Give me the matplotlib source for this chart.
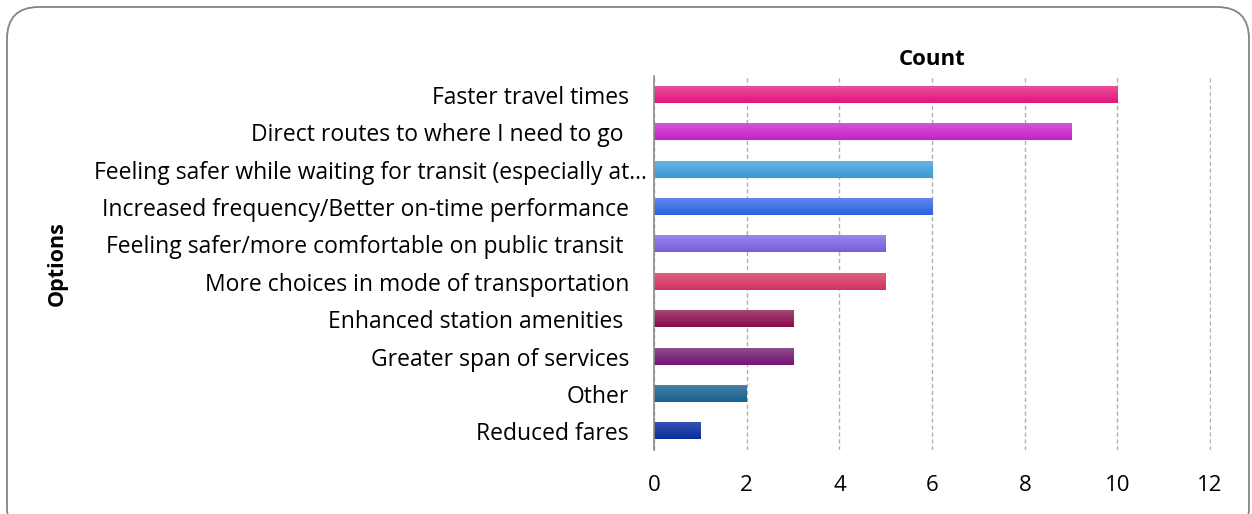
import matplotlib
matplotlib.use("Agg")
import matplotlib.pyplot as plt
import numpy as np
from matplotlib.colors import to_rgb, LinearSegmentedColormap
from matplotlib.patches import FancyBboxPatch
from matplotlib.transforms import IdentityTransform, ScaledTranslation

plt.rcParams['font.family'] = ['Open Sans', 'DejaVu Sans']

categories = [
    "Faster travel times",
    "Direct routes to where I need to go ",
    "Feeling safer while waiting for transit (especially at\u2026",
    "Increased frequency/Better on-time performance",
    "Feeling safer/more comfortable on public transit ",
    "More choices in mode of transportation",
    "Enhanced station amenities ",
    "Greater span of services",
    "Other",
    "Reduced fares",
]
counts = [10, 9, 6, 6, 5, 5, 3, 3, 2, 1]
top_colors = ["#EA4E9A", "#D456D8", "#68B4E2", "#6089EA", "#9A86EA",
              "#DE6084", "#A04874", "#8C4C8A", "#4880A6", "#3652B2"]
base_colors = ["#E0167C", "#C322C4", "#3B98D8", "#2C60DE", "#765CDA",
               "#CE345E", "#8C0A4C", "#781474", "#16608F", "#0A2E9E"]
xticks = [0, 2, 4, 6, 8, 10, 12]

fig = plt.figure(figsize=(12.52, 5.14), dpi=100)
frame = FancyBboxPatch((7, -25), 1242, 532, boxstyle="round,pad=0,rounding_size=32",
                       transform=IdentityTransform(), facecolor="none", edgecolor="#858585",
                       linewidth=1.3, zorder=5)
fig.patches.append(frame)

ax = fig.add_axes([0.5224, 0.1245, 0.4449, 0.7275])
ax.set_facecolor("none")
y = np.arange(len(categories))
h = 0.43
bars = ax.barh(y, counts, height=h, color=base_colors, zorder=2)
for b, c0, c1 in zip(bars, top_colors, base_colors):
    cmap = LinearSegmentedColormap.from_list("g", [to_rgb(c0), to_rgb(c1)])
    grad = np.linspace(0, 1, 64).reshape(-1, 1)
    x0, y0 = b.get_x(), b.get_y()
    w, hh = b.get_width(), b.get_height()
    ax.imshow(grad, cmap=cmap, aspect="auto", extent=(x0, x0 + w, y0 + hh, y0),
              origin="upper", zorder=3, interpolation="bilinear")

ax.set_ylim(len(categories) - 0.5, -0.5)
ax.set_xlim(0, 12.02)
ax.set_xticks(xticks)
ax.set_yticks(y)
ax.set_yticklabels(categories)
ax.tick_params(axis="y", length=0, pad=18, labelsize=16.5)
ax.tick_params(axis="x", length=0, pad=18, labelsize=16)
# the truncated label sits closer to the axis in the original
lab = ax.get_yticklabels()[2]
lab.set_transform(lab.get_transform() + ScaledTranslation(0.18, 0, fig.dpi_scale_trans))
for s in ["top", "right", "bottom"]:
    ax.spines[s].set_visible(False)
ax.spines["left"].set_color("#8c8c8c")
ax.spines["left"].set_linewidth(1.2)
ax.spines["left"].set_zorder(4)
ax.grid(axis="x", color="#b0b0b0", linestyle=(0, (3, 2)), linewidth=1, zorder=1)
ax.set_axisbelow(True)

fig.text(0.7444, 0.885, "Count", ha="center", va="center", fontsize=16, fontweight="bold")
fig.text(0.046, 0.488, "Options", ha="center", va="center", rotation=90, fontsize=15.5, fontweight="bold")

fig.savefig("out.png", dpi=100)
